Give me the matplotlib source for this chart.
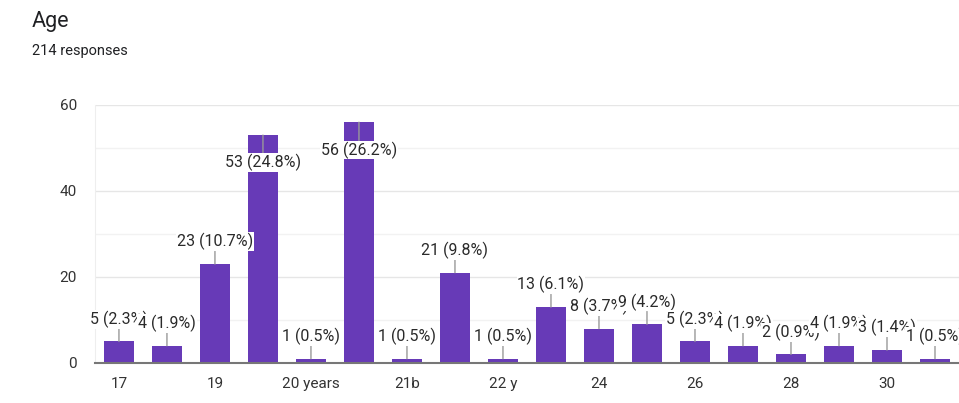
import matplotlib.pyplot as plt

plt.rcParams['font.family'] = ['Roboto', 'DejaVu Sans']

# 数据
categories = ['17', '18', '19', '20', '20 years', '21', '21b', '22', '22 y', '23',
              '24', '25', '26', '27', '28', '29', '30', '31']
counts = [5, 4, 23, 53, 1, 56, 1, 21, 1, 13, 8, 9, 5, 4, 2, 4, 3, 1]
shown_labels = ['17', '', '19', '', '20 years', '', '21b', '', '22 y', '',
                '24', '', '26', '', '28', '', '30', '']
total = sum(counts)

fig = plt.figure(figsize=(9.59, 4.03), dpi=100)
ax = fig.add_axes([0.099, 0.0993, 0.901, 0.6402])

x = list(range(len(categories)))
ax.bar(x, counts, width=0.62, color='#673AB7', zorder=2)

# 数值标签
for i, v in enumerate(counts):
    pct = v / total * 100
    txt = f'{v} ({pct:.1f}%)'
    if v > 45:
        off = -20
    else:
        off = 16
    ax.annotate(txt, xy=(i, v), xytext=(0, off), textcoords='offset points',
                ha='center', va='center', fontsize=11.5, color='#2a2a2a',
                bbox=dict(boxstyle='square,pad=0.05', fc='white', ec='none'),
                arrowprops=dict(arrowstyle='-', color='#999999', lw=1,
                                shrinkA=0, shrinkB=0),
                annotation_clip=False, zorder=3)

ax.set_xlim(-0.5, len(categories) - 0.5)
ax.set_ylim(0, 60)
ax.set_xticks(x)
ax.set_xticklabels(shown_labels)
ax.set_yticks([0, 20, 40, 60])
ax.set_yticks([10, 30, 50], minor=True)
ax.tick_params(axis='both', length=0, labelsize=11, colors='#333333')
ax.tick_params(axis='x', pad=10)
ax.tick_params(axis='y', pad=13)
ax.tick_params(axis='y', which='minor', length=0)

ax.grid(True, axis='y', which='major', color='#e6e6e6', lw=1, zorder=0)
ax.grid(True, axis='y', which='minor', color='#f2f2f2', lw=1, zorder=0)

ax.spines['top'].set_visible(False)
ax.spines['left'].set_color('#eeeeee')
ax.spines['right'].set_color('#eeeeee')
ax.spines['bottom'].set_color('#777777')
ax.spines['bottom'].set_linewidth(1.5)
ax.spines['bottom'].set_zorder(4)

fig.text(32 / 959, 1 - 27 / 403, 'Age', fontsize=15.5, color='#202124', va='baseline')
fig.text(32 / 959, 1 - 55 / 403, '214 responses', fontsize=10.5, color='#202124', va='baseline')

fig.savefig('out.png', dpi=100)
